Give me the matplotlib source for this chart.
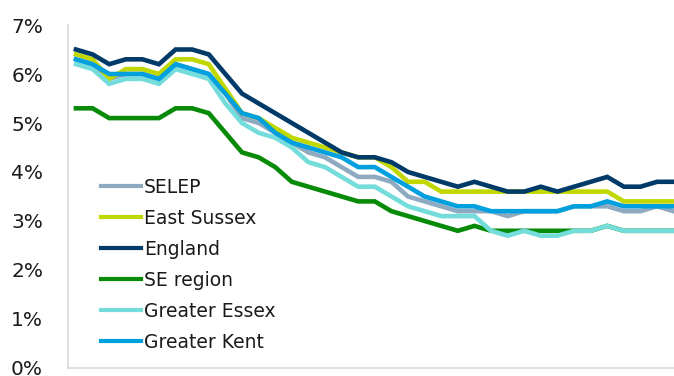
import matplotlib.pyplot as plt
import numpy as np
from matplotlib.ticker import FuncFormatter

# claimant rate (%) by period, one list per area
selep = [6.3, 6.2, 5.9, 6.0, 6.0, 5.9, 6.2, 6.1, 6.0,
         5.6, 5.1, 5.0, 4.8, 4.6, 4.4, 4.3, 4.1, 3.9,
         3.9, 3.8, 3.5, 3.4, 3.3, 3.2, 3.2, 3.2,
         3.1, 3.2, 3.2, 3.2, 3.3, 3.3, 3.3, 3.2, 3.2, 3.3, 3.2]
eastSussex = [6.4, 6.3, 5.9, 6.1, 6.1, 6.0, 6.3, 6.3, 6.2,
              5.7, 5.2, 5.1, 4.9, 4.7, 4.6, 4.5, 4.4, 4.3,
              4.3, 4.1, 3.8, 3.8, 3.6, 3.6, 3.6, 3.6,
              3.6, 3.6, 3.6, 3.6, 3.6, 3.6, 3.6, 3.4, 3.4, 3.4, 3.4]
england = [6.5, 6.4, 6.2, 6.3, 6.3, 6.2, 6.5, 6.5, 6.4,
           6.0, 5.6, 5.4, 5.2, 5.0, 4.8, 4.6, 4.4, 4.3,
           4.3, 4.2, 4.0, 3.9, 3.8, 3.7, 3.8, 3.7,
           3.6, 3.6, 3.7, 3.6, 3.7, 3.8, 3.9, 3.7, 3.7, 3.8, 3.8]
seRegion = [5.3, 5.3, 5.1, 5.1, 5.1, 5.1, 5.3, 5.3, 5.2,
            4.8, 4.4, 4.3, 4.1, 3.8, 3.7, 3.6, 3.5, 3.4,
            3.4, 3.2, 3.1, 3.0, 2.9, 2.8, 2.9, 2.8,
            2.8, 2.8, 2.8, 2.8, 2.8, 2.8, 2.9, 2.8, 2.8, 2.8, 2.8]
greaterEssex = [6.2, 6.1, 5.8, 5.9, 5.9, 5.8, 6.1, 6.0, 5.9,
                5.4, 5.0, 4.8, 4.7, 4.5, 4.2, 4.1, 3.9, 3.7,
                3.7, 3.5, 3.3, 3.2, 3.1, 3.1, 3.1, 2.8,
                2.7, 2.8, 2.7, 2.7, 2.8, 2.8, 2.9, 2.8, 2.8, 2.8, 2.8]
greaterKent = [6.3, 6.2, 6.0, 6.0, 6.0, 5.9, 6.2, 6.1, 6.0,
               5.6, 5.2, 5.1, 4.8, 4.6, 4.5, 4.4, 4.3, 4.1,
               4.1, 3.9, 3.7, 3.5, 3.4, 3.3, 3.3, 3.2,
               3.2, 3.2, 3.2, 3.2, 3.3, 3.3, 3.4, 3.3, 3.3, 3.3, 3.3]

names = ['SELEP', 'East Sussex', 'England', 'SE region', 'Greater Essex', 'Greater Kent']
series = [selep, eastSussex, england, seRegion, greaterEssex, greaterKent]
colors = ['#8eaac0', '#c0d700', '#003a68', '#078a07', '#74dddc', '#00a0df']

plt.rcParams['font.family'] = 'DejaVu Sans'

fig = plt.figure(figsize=(6.74, 3.76), dpi=100)
ax = fig.add_axes([0.1009, 0.0213, 0.8991, 0.9122])

periods = np.arange(len(england))
for name, vals, col in zip(names, series, colors):
    ax.plot(periods, vals, color=col, lw=3.3, label=name, solid_joinstyle='miter')

ax.set_xlim(-0.48, 36.02)
ax.set_ylim(0, 7)
ax.set_yticks(np.arange(0, 8, 1))
ax.yaxis.set_major_formatter(FuncFormatter(lambda v, p: '%d%%' % v))
ax.set_xticks([])
ax.tick_params(axis='y', length=0, pad=18, labelsize=14.5, labelcolor='#1a1a1a')

for side in ['top', 'right']:
    ax.spines[side].set_visible(False)
for side in ['left', 'bottom']:
    ax.spines[side].set_color('#d9d9d9')
    ax.spines[side].set_linewidth(1.2)

leg = ax.legend(loc='upper left', bbox_to_anchor=(101 / 674, 1 - 178 / 376),
                bbox_transform=fig.transFigure, frameon=False, fontsize=13.5,
                handlelength=2.15, handletextpad=0.15, labelspacing=0.64,
                borderpad=0, borderaxespad=0)
for line in leg.get_lines():
    line.set_linewidth(3.0)
for txt in leg.get_texts():
    txt.set_color('#1a1a1a')

fig.savefig('out.png', dpi=100)
